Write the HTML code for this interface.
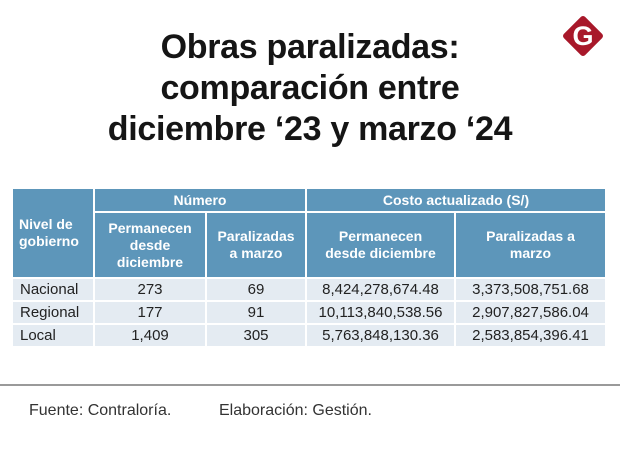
<!DOCTYPE html>
<html><head><meta charset="utf-8"><style>
body{margin:0;width:620px;height:456px;background:#fff;font-family:"Liberation Sans",sans-serif;position:relative;overflow:hidden}
.title{position:absolute;left:0;width:620px;top:27px;text-align:center;font-weight:bold;font-size:34px;line-height:41px;color:#151515;letter-spacing:-0.3px}
.logo{position:absolute;left:568px;top:21px;width:30px;height:30px;background:#a8182a;transform:rotate(45deg);border-radius:3px}
.logoG{position:absolute;left:568px;top:18px;width:30px;text-align:center;font-weight:bold;font-size:27px;color:#fff;line-height:36px}
table{position:absolute;left:11px;top:187px;border-collapse:separate;border-spacing:2px;font-size:14px}
th{background:#5d96ba;color:#fff;font-weight:bold;padding:0;line-height:17px}
td{background:#e4ebf2;color:#222;padding:0;height:21px;text-align:center;font-size:15px}
td.l{text-align:left;padding-left:7px}
.rule{position:absolute;left:0;top:384px;width:620px;height:2px;background:#9a9a9a}
.foot{position:absolute;top:402px;font-size:16px;color:#333}
</style></head><body>
<div class="title">Obras paralizadas:<br>comparación entre<br>diciembre ‘23 y marzo ‘24</div>
<div class="logo"></div><div class="logoG">G</div>
<table>
<tr><th rowspan="2" style="width:74px;text-align:left;padding-left:6px">Nivel de<br>gobierno</th><th colspan="2" style="height:22px">Número</th><th colspan="2">Costo actualizado (S/)</th></tr>
<tr><th style="width:110px;height:64px">Permanecen<br>desde<br>diciembre</th><th style="width:98px">Paralizadas<br>a marzo</th><th style="width:147px">Permanecen<br>desde diciembre</th><th style="width:149px">Paralizadas a<br>marzo</th></tr>
<tr><td class="l">Nacional</td><td>273</td><td>69</td><td>8,424,278,674.48</td><td>3,373,508,751.68</td></tr>
<tr><td class="l">Regional</td><td>177</td><td>91</td><td>10,113,840,538.56</td><td>2,907,827,586.04</td></tr>
<tr><td class="l">Local</td><td>1,409</td><td>305</td><td>5,763,848,130.36</td><td>2,583,854,396.41</td></tr>
</table>
<div class="rule"></div>
<div class="foot" style="left:29px">Fuente: Contraloría.</div>
<div class="foot" style="left:219px">Elaboración: Gestión.</div>
</body></html>
